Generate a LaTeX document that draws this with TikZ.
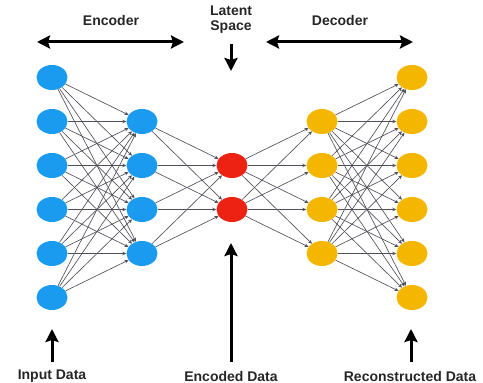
\documentclass[tikz,border=0pt]{standalone}
\usepackage{fontspec}
\setmainfont{Liberation Sans}
\usetikzlibrary{arrows.meta, positioning, calc, shapes.geometric}

\definecolor{encblue}{RGB}{27,155,240}
\definecolor{codered}{RGB}{238,34,18}
\definecolor{decyellow}{RGB}{245,182,0}
\definecolor{linkgray}{RGB}{80,80,92}

\tikzset{bigtip/.tip={Stealth[length=13pt, width=13pt, inset=2pt]}}

\begin{document}
\begin{tikzpicture}[>=Stealth, x=1pt, y=1pt,
  neuron/.style={ellipse, minimum width=31pt, minimum height=25pt, inner sep=0pt},
  link/.style={linkgray, line width=0.65pt, -{Stealth[length=4pt, width=3.5pt]}},
  bigarrow/.style={line width=3pt, -{bigtip}},
  heading/.style={font=\fontsize{14}{15}\selectfont\bfseries, text=black!85, inner sep=0pt}]
  \useasboundingbox (0,0) rectangle (483,383);

  % Layers
  \foreach \i in {1,...,6}
    \node[neuron, fill=encblue] (in\i) at (52, {305.5-44*(\i-1)}) {};
  \foreach \i in {1,...,4}
    \node[neuron, fill=encblue] (enc\i) at (142, {261.5-44*(\i-1)}) {};
  \foreach \i in {1,2}
    \node[neuron, fill=codered] (code\i) at (232, {217.5-44*(\i-1)}) {};
  \foreach \i in {1,...,4}
    \node[neuron, fill=decyellow] (dec\i) at (322, {261.5-44*(\i-1)}) {};
  \foreach \i in {1,...,6}
    \node[neuron, fill=decyellow] (out\i) at (412, {305.5-44*(\i-1)}) {};

  % Links
  \foreach \i in {1,...,6}
    \foreach \j in {1,...,4}
      \draw[link] (in\i) -- (enc\j);
  \foreach \i in {1,...,4}
    \foreach \j in {1,2}
      \draw[link] (enc\i) -- (code\j);
  \foreach \i in {1,2}
    \foreach \j in {1,...,4}
      \draw[link] (code\i) -- (dec\j);
  \foreach \i in {1,...,4}
    \foreach \j in {1,...,6}
      \draw[link] (dec\i) -- (out\j);

  % Top labels
  \node[heading] (enclab) at (111, 363) {Encoder};
  \node[heading] (declab) at (340, 363) {Decoder};
  \node[heading, align=center] (latent) at (231, 363.5) {Latent\\Space};

  \coordinate (encL) at (37, 341);
  \coordinate (encR) at (184, 341);
  \coordinate (decL) at (266, 341);
  \coordinate (decR) at (413, 341);
  \coordinate (latTail) at (231, 339);
  \coordinate (latTip) at (231, 312);
  \draw[line width=3pt, {bigtip}-{bigtip}] (encL) -- (encR);
  \draw[line width=3pt, {bigtip}-{bigtip}] (decL) -- (decR);
  \draw[bigarrow] (latTail) -- (latTip);

  % Bottom labels
  \node[heading] (inlab) at (52, 7) {Input Data};
  \node[heading] (codelab) at (231, 7) {Encoded Data};
  \node[heading] (outlab) at (410, 7) {Reconstructed Data};

  \coordinate (inBase) at (52, 21);
  \coordinate (inTip) at (52, 54);
  \coordinate (codeBase) at (231, 21);
  \coordinate (codeTip) at (231, 140);
  \coordinate (outBase) at (411, 21);
  \coordinate (outTip) at (411, 54);
  \draw[bigarrow] (inBase) -- (inTip);
  \draw[bigarrow] (codeBase) -- (codeTip);
  \draw[bigarrow] (outBase) -- (outTip);
\end{tikzpicture}
\end{document}
